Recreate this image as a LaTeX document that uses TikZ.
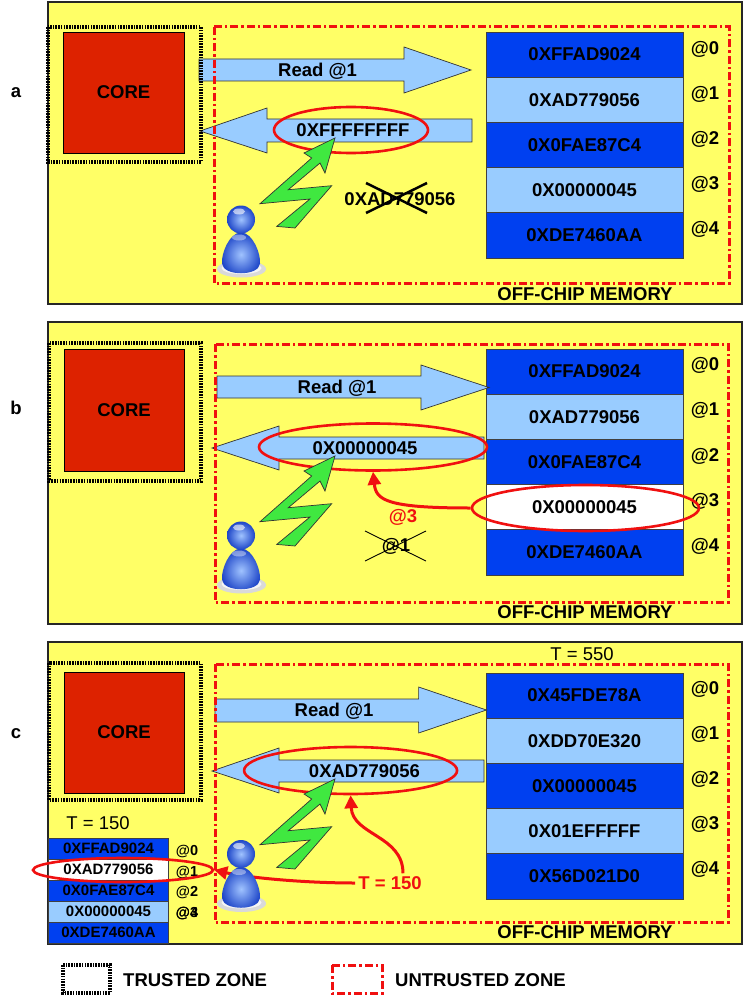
\documentclass[tikz,border=0pt]{standalone}
\usepackage{fontspec}
\setmainfont{Liberation Sans}
\usetikzlibrary{shapes.geometric,arrows.meta}

\definecolor{panelyellow}{RGB}{255,255,102}
\definecolor{memdark}{RGB}{0,64,240}
\definecolor{memlight}{RGB}{153,204,255}
\definecolor{corered}{RGB}{221,34,0}
\definecolor{boltgreen}{RGB}{64,232,64}
\definecolor{ringred}{RGB}{240,16,16}
\definecolor{userlight}{RGB}{160,195,255}
\definecolor{userdeep}{RGB}{30,70,200}

\newcommand\figbig{\fontsize{18.5}{20}\selectfont\bfseries}
\newcommand\figplain{\fontsize{18.5}{20}\selectfont}
\newcommand\figsmall{\fontsize{15}{17}\selectfont\bfseries}
\newcommand\figtiny{\fontsize{14.5}{16}\selectfont\bfseries}

% lightning bolt, tip at (#1,#2)
\newcommand\boltat[2]{%
  \draw[bolt,shift={(#1,#2)}] (0,0) -- (-10,35) -- (-15,25) -- (-46.7,51.7)
    -- (-3.3,47.7) -- (-40,90) -- (-58.3,88.4) -- (-25,61) -- (-75,65.7)
    -- (-23.3,20) -- (-31,15) -- cycle;}

% attacker figure, head centre at (#1,#2)
\newcommand\userat[2]{%
  \begin{scope}[shift={(#1,#2)}]
    \fill[gray!30] (0.5,49.5) ellipse [x radius=24.5,y radius=8.5];
    \fill[gray!8] (0.5,48.5) ellipse [x radius=20,y radius=6];
    \shade[inner color=userlight,outer color=userdeep] (0,13) .. controls (12,13) and (20,35) .. (19,44)
      .. controls (18,57) and (-18,57) .. (-19,44)
      .. controls (-20,35) and (-12,13) .. (0,13) -- cycle;
    \shade[inner color=userlight,outer color=userdeep] (0,0) circle (14);
    \fill[white,opacity=0.6] (-2,-8) ellipse [x radius=6,y radius=3];
    \fill[white,opacity=0.4] (-2,18) ellipse [x radius=7,y radius=3];
  \end{scope}}

\begin{document}
\begin{tikzpicture}[x=1pt,y=-1pt,
  panel/.style={draw=black!85,line width=1.3,fill=panelyellow},
  trusted/.style={draw=black,line width=3.2,dash pattern=on 1.6pt off 1.1pt},
  untrusted/.style={draw=ringred,line width=3,dash pattern=on 8pt off 3pt on 2.5pt off 3pt},
  corebox/.style={draw=black,line width=0.8,fill=corered,minimum width=121,minimum height=121,inner sep=0,font=\figbig},
  memrow/.style={draw=black!75,line width=0.8,minimum width=197,minimum height=45.2,inner sep=0,font=\figbig},
  smallrow/.style={draw=black!75,line width=0.8,minimum width=120,minimum height=21,inner sep=0,font=\figsmall},
  bigarrow/.style={draw=black!80,line width=0.7,fill=memlight},
  ring/.style={ellipse,draw=ringred,line width=2.6,inner sep=0},
  redarrow/.style={draw=ringred,line width=3,-{Triangle[length=13pt,width=13pt]}},
  bolt/.style={draw=black!80,line width=0.7,fill=boltgreen,line join=miter},
  txt/.style={font=\figbig,inner sep=1},
  addr/.style={font=\figbig,inner sep=0},
]
\useasboundingbox (0,0) rectangle (744,1003);

% ---------- panels ----------
\draw[panel] (48,2) rectangle (742,304);
\draw[panel] (48,322) rectangle (742,624);
\draw[panel] (48,642) rectangle (742,944);

\node[txt] (la) at (16,93) {a};
\node[txt] (lb) at (16,408) {b};
\node[txt] (lc) at (16,734) {c};

% ---------- cores ----------
\node[corebox] (corea) at (123.5,92.5) {CORE};
\node[corebox,minimum width=120,minimum height=122] (coreb) at (124,410) {CORE};
\node[corebox,minimum width=120] (corec) at (124,732.5) {CORE};

% ---------- off-chip memories ----------
\node[memrow,fill=memdark]  (ma0) at (584.5,54.6)  {0XFFAD9024};
\node[memrow,fill=memlight] (ma1) at (584.5,99.8)  {0XAD779056};
\node[memrow,fill=memdark]  (ma2) at (584.5,145.0) {0X0FAE87C4};
\node[memrow,fill=memlight] (ma3) at (584.5,190.2) {0X00000045};
\node[memrow,fill=memdark]  (ma4) at (584.5,235.4) {0XDE7460AA};

\node[memrow,fill=memdark]  (mb0) at (584.5,371.6) {0XFFAD9024};
\node[memrow,fill=memlight] (mb1) at (584.5,416.8) {0XAD779056};
\node[memrow,fill=memdark]  (mb2) at (584.5,462.0) {0X0FAE87C4};
\node[memrow,fill=white]    (mb3) at (584.5,507.2) {0X00000045};
\node[memrow,fill=memdark]  (mb4) at (584.5,552.4) {0XDE7460AA};

\node[memrow,fill=memdark]  (mc0) at (584.5,695.6) {0X45FDE78A};
\node[memrow,fill=memlight] (mc1) at (584.5,740.8) {0XDD70E320};
\node[memrow,fill=memdark]  (mc2) at (584.5,786.0) {0X00000045};
\node[memrow,fill=memlight] (mc3) at (584.5,831.2) {0X01EFFFFF};
\node[memrow,fill=memdark]  (mc4) at (584.5,876.4) {0X56D021D0};

% earlier snapshot of the memory
\node[smallrow,fill=memdark]  (sc0) at (108.5,848.5) {0XFFAD9024};
\node[smallrow,fill=white]    (sc1) at (108.5,869.5) {0XAD779056};
\node[smallrow,fill=memdark]  (sc2) at (108.5,890.5) {0X0FAE87C4};
\node[smallrow,fill=memlight] (sc3) at (108.5,911.5) {0X00000045};
\node[smallrow,fill=memdark]  (sc4) at (108.5,932.5) {0XDE7460AA};

% ---------- bus arrows ----------
\draw[bigarrow] (199,59) -- (404,59) -- (404,47) -- (471,70) -- (404,93) -- (404,81) -- (199,81) -- cycle;
\draw[bigarrow] (472,119) -- (267,119) -- (267,108) -- (200,131) -- (267,153) -- (267,142) -- (472,142) -- cycle;

\draw[bigarrow] (217,376) -- (421,376) -- (421,365) -- (489,387.5) -- (421,410) -- (421,398) -- (217,398) -- cycle;
\draw[bigarrow] (484,437) -- (279,437) -- (279,426) -- (212,448) -- (279,470) -- (279,459) -- (484,459) -- cycle;

\draw[bigarrow] (215,699) -- (418.6,699) -- (418.6,687) -- (486.5,710) -- (418.6,733) -- (418.6,722) -- (215,722) -- cycle;
\draw[bigarrow] (484,760) -- (279,760) -- (279,748) -- (212,771) -- (279,793) -- (279,782) -- (484,782) -- cycle;

% ---------- zones ----------
\draw[trusted] (48,27) rectangle (201,162);
\draw[untrusted] (214,27) rectangle (729,283);
\draw[trusted] (49,343) rectangle (201,481);
\draw[untrusted] (215,344) rectangle (728.5,602);
\draw[trusted] (49,663) rectangle (201,800);
\draw[untrusted] (215,664) rectangle (728.5,922);

% ---------- arrow texts ----------
\node[txt] (rda) at (317.5,71) {Read @1};
\node[txt] (rdb) at (337,388) {Read @1};
\node[txt] (rdc) at (334,711) {Read @1};
\node[txt] (va) at (353,130) {0XFFFFFFFF};
\node[txt] (vb) at (365,448) {0X00000045};
\node[txt] (vc) at (364.5,771) {0XAD779056};

% ---------- address labels ----------
\foreach \i/\y in {0/49,1/94,2/139.5,3/184.5,4/229.5}
  \node[addr] (aa\i) at (705,\y) {@\i};
\foreach \i/\y in {0/365,1/410.5,2/456,3/501.5,4/546.5}
  \node[addr] (ab\i) at (705,\y) {@\i};
\foreach \i/\y in {0/689,1/734,2/779.5,3/824.5,4/869.5}
  \node[addr] (ac\i) at (705,\y) {@\i};

\node[font=\figtiny,inner sep=0] (sa0) at (187,851) {@0};
\node[font=\figtiny,inner sep=0] (sa1) at (187,872) {@1};
\node[font=\figtiny,inner sep=0] (sa2) at (187,892.5) {@2};
\node[font=\figtiny,inner sep=0] (sa4) at (187,913.5) {@4};
\node[font=\figtiny,inner sep=0] (sa3) at (187,913.5) {@3};

\node[txt] (offa) at (585,294) {OFF-CHIP MEMORY};
\node[txt] (offb) at (585,612) {OFF-CHIP MEMORY};
\node[txt] (offc) at (585,932) {OFF-CHIP MEMORY};

\node[font=\figplain,inner sep=1] (t550) at (582,654) {T = 550};
\node[font=\figplain,inner sep=1] (t150) at (98,823) {T = 150};

% ---------- overwritten values ----------
\node[txt] (olda) at (400,199) {0XAD779056};
\draw[line width=2.5] (366,183) -- (427,213);
\draw[line width=2.5] (366,213) -- (427,183);

\node[txt] (oldb) at (396,546) {@1};
\draw[line width=0.9] (365,531) -- (426,561);
\draw[line width=0.9] (365,561) -- (426,531);
\node[txt,text=ringred] (newb) at (403,517) {@3};

% ---------- highlighted values and replays ----------
\node[ring,minimum width=154,minimum height=46] (ringa) at (351,130) {};
\node[ring,minimum width=228,minimum height=47] (ringb) at (373,447) {};
\node[ring,minimum width=227,minimum height=46] (ringb3) at (585.5,508) {};
\node[ring,minimum width=213,minimum height=47] (ringc) at (350.6,770.5) {};
\node[ring,minimum width=180,minimum height=24] (ringcs) at (123,870) {};

\draw[redarrow] (ringb3.west) .. controls +(-85,0) and +(3,28) .. (ringb.south);

\node[txt,text=ringred,inner sep=3] (tred) at (390,883) {T = 150};
\draw[redarrow] (tred.west) .. controls +(-55,0) and +(30,7) .. (ringcs.east);
\draw[redarrow] ([xshift=13]tred.north) .. controls +(0,-38) and +(2,40) .. (ringc.south);

% ---------- attacks ----------
\boltat{335}{138}
\boltat{335}{456}
\boltat{335}{779}

\userat{241}{219.5}
\userat{241}{535.5}
\userat{241}{854}

% ---------- legend ----------
\draw[trusted] (63,965) rectangle (110,993);
\node[txt,anchor=west,inner sep=0] (legt) at (123,980) {TRUSTED ZONE};
\draw[untrusted] (332,965) rectangle (382,993);
\node[txt,anchor=west,inner sep=0] (legu) at (395,980) {UNTRUSTED ZONE};
\end{tikzpicture}
\end{document}
